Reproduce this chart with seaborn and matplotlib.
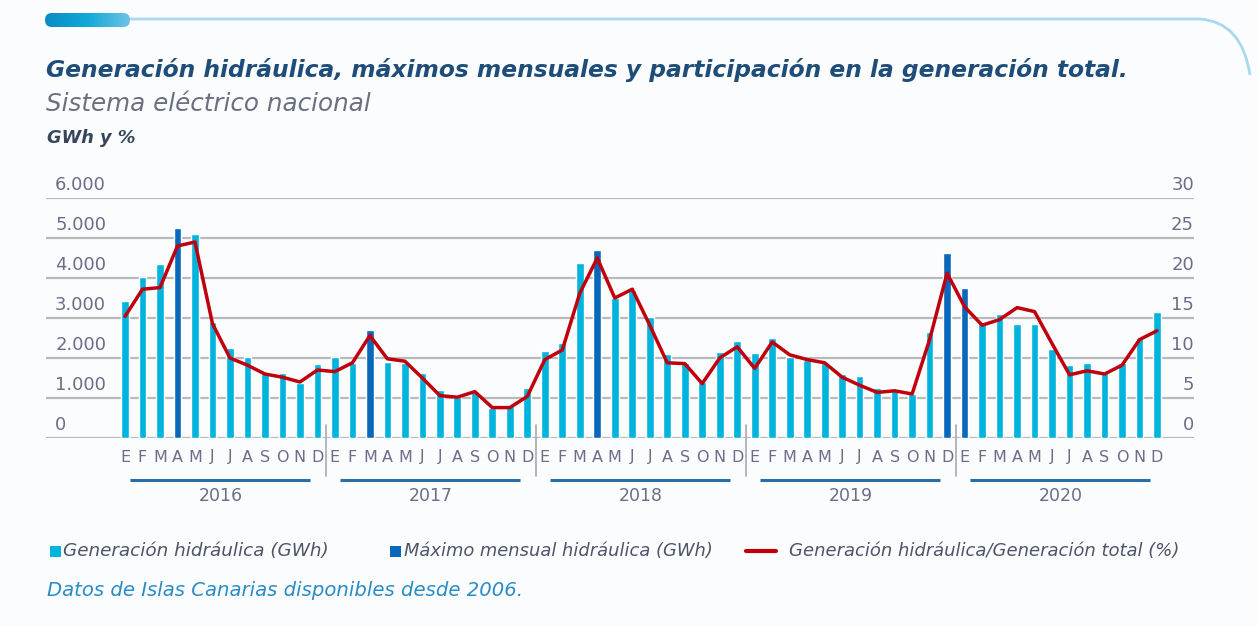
import numpy as np
import pandas as pd
import matplotlib
matplotlib.use("Agg")
import matplotlib.pyplot as plt
import matplotlib.transforms as mtransforms
from matplotlib.patches import Rectangle, FancyBboxPatch, PathPatch
from matplotlib.path import Path
from matplotlib.lines import Line2D
import seaborn as sns

# ---------------- data ----------------
years = ["2016", "2017", "2018", "2019", "2020"]
months = ["E", "F", "M", "A", "M", "J", "J", "A", "S", "O", "N", "D"]

gwh_2016 = [3420, 4030, 4340, 5260, 5100, 2900, 2240, 2030, 1620, 1620, 1370, 1850]
gwh_2017 = [2030, 1880, 2700, 1910, 1880, 1620, 1200, 1030, 1160, 740, 790, 1240]
gwh_2018 = [2170, 2370, 4380, 4700, 3490, 3700, 3030, 2090, 1880, 1410, 2160, 2430]
gwh_2019 = [2120, 2490, 2030, 1950, 1880, 1600, 1550, 1240, 1225, 1100, 2640, 4620]
gwh_2020 = [3740, 2910, 3100, 2850, 2850, 2220, 1820, 1880, 1660, 1870, 2490, 3160]

pct_2016 = [15.2, 18.6, 18.8, 24.0, 24.5, 14.3, 10.0, 9.1, 8.0, 7.6, 7.0, 8.5]
pct_2017 = [8.3, 9.4, 12.8, 9.9, 9.6, 7.5, 5.3, 5.1, 5.8, 3.8, 3.8, 5.2]
pct_2018 = [9.8, 11.0, 18.1, 22.5, 17.5, 18.6, 14.1, 9.4, 9.3, 6.8, 10.0, 11.4]
pct_2019 = [8.7, 12.0, 10.4, 9.8, 9.4, 7.6, 6.6, 5.7, 5.9, 5.5, 12.3, 20.6]
pct_2020 = [16.4, 14.1, 14.8, 16.3, 15.8, 11.8, 7.9, 8.4, 8.0, 9.1, 12.3, 13.4]

left_ticks = [0, 1000, 2000, 3000, 4000, 5000, 6000]
left_labels = ["0", "1.000", "2.000", "3.000", "4.000", "5.000", "6.000"]
right_ticks = [0, 5, 10, 15, 20, 25, 30]
right_labels = ["0", "5", "10", "15", "20", "25", "30"]

legend_labels = ["Generación hidráulica (GWh)", "Máximo mensual hidráulica (GWh)",
                 "Generación hidráulica/Generación total (%)"]

# ---------------- frame ----------------
gwh_all = [gwh_2016, gwh_2017, gwh_2018, gwh_2019, gwh_2020]
pct_all = [pct_2016, pct_2017, pct_2018, pct_2019, pct_2020]
rows = []
for yi, (yr, g, p) in enumerate(zip(years, gwh_all, pct_all)):
    imax = int(np.argmax(g))
    for mi in range(12):
        rows.append(dict(idx=yi * 12 + mi, year=yr, month=months[mi], gwh=g[mi], pct=p[mi],
                         tipo="max" if mi == imax else "normal"))
df = pd.DataFrame(rows)

# ---------------- style ----------------
sns.set_theme(style="white")
BG = "#fbfcfd"
C_LIGHT = "#00b4de"
C_DARK = "#0a68bb"
C_RED = "#c0000c"
C_GRID = "#b9b9bd"
C_TXT = "#6a6e86"
plt.rcParams["font.family"] = ["DejaVu Sans"]

W, H = 1258, 626
fig = plt.figure(figsize=(W / 100, H / 100), dpi=100, facecolor=BG)

def fx(px):
    return px / W

def fy(py):
    return 1 - py / H

ax_l, ax_r, ax_t, ax_b = 46, 1194, 198, 438
ax = fig.add_axes([fx(ax_l), fy(ax_b), fx(ax_r - ax_l), fy(ax_t) - fy(ax_b)])
ax.set_facecolor("none")

sns.barplot(data=df, x="idx", y="gwh", hue="tipo", palette={"normal": C_LIGHT, "max": C_DARK},
            dodge=False, native_scale=True, width=0.44, saturation=1, legend=False, ax=ax, zorder=3)

x0 = 125
step = (1157 - 125) / 59
ax.set_xlim((ax_l - x0) / step, (ax_r - x0) / step)
ax.set_ylim(0, 6000)
ax.set_axisbelow(True)
for v in left_ticks:
    ax.axhline(v, color=C_GRID, lw=1.6, zorder=0)
for s in ax.spines.values():
    s.set_visible(False)
ax.set_xticks([])
ax.set_yticks([])
ax.set_xlabel("")
ax.set_ylabel("")

ax2 = ax.twinx()
sns.lineplot(data=df, x="idx", y="pct", color=C_RED, lw=2.5, ax=ax2, zorder=5)
ax2.set_ylim(0, 30)
ax2.set_xlim(ax.get_xlim())
for s in ax2.spines.values():
    s.set_visible(False)
ax2.set_yticks([])
ax2.set_xlabel("")
ax2.set_ylabel("")

# tick labels above gridlines
tr_l = mtransforms.offset_copy(ax.get_yaxis_transform(), fig=fig, x=0, y=4, units="dots")
for v, lab in zip(left_ticks, left_labels):
    ax.text(0.008, v, lab, transform=tr_l, ha="left", va="bottom", fontsize=13,
            color=C_TXT)
tr_r = mtransforms.offset_copy(ax2.get_yaxis_transform(), fig=fig, x=0, y=4, units="dots")
for v, lab in zip(right_ticks, right_labels):
    ax2.text(1.0, v, lab, transform=tr_r, ha="right", va="bottom", fontsize=13,
             color=C_TXT)

# month letters, separators, year underline & labels
def dy(py):
    return (ax_b - py) / (ax_b - ax_t) * 6000

for _, r in df.iterrows():
    ax.text(r["idx"], dy(457), r["month"], ha="center", va="center", fontsize=11.5,
            color=C_TXT, clip_on=False)
for yi, yr in enumerate(years):
    s = yi * 12
    if yi > 0:
        ax.plot([s - 0.5, s - 0.5], [dy(425), dy(476)], color="#a9aab0", lw=1.2,
                clip_on=False, zorder=1)
    ax.plot([s + 0.3, s + 10.6], [dy(480), dy(480)], color="#2a6ea6", lw=2.2,
            clip_on=False, solid_capstyle="butt")
    ax.text(s + 5.5, dy(496), yr, ha="center", va="center", fontsize=12.5, color=C_TXT,
            clip_on=False)

# ---------------- header ----------------
fig.text(fx(46), fy(70), "Generación hidráulica, máximos mensuales y participación en la generación total.",
         ha="left", va="center", fontsize=16.8, fontweight="bold", style="italic", color="#1f4d7a")
fig.text(fx(46), fy(104), "Sistema eléctrico nacional", ha="left", va="center",
         fontsize=17.7, style="italic", color="#6a7080")
fig.text(fx(47), fy(138), "GWh y %", ha="left", va="center", fontsize=12.8,
         fontweight="bold", style="italic", color="#38465c")

# top decoration: gradient pill + thin line curving down on the right
pill_ax = fig.add_axes([fx(45), fy(27), fx(85), fy(13) - fy(27)])
pill_ax.set_axis_off()
grad = np.linspace(0, 1, 256).reshape(1, -1)
cmap = matplotlib.colors.LinearSegmentedColormap.from_list("pill", ["#0a8cc2", "#12a8d8", "#6cc3e6"])
im = pill_ax.imshow(grad, aspect="auto", cmap=cmap, extent=(0, 1, 0, 1))
clip = FancyBboxPatch((0.0, 0.0), 1.0, 1.0, boxstyle="round,pad=0,rounding_size=0.08",
                      transform=pill_ax.transAxes, facecolor="none", edgecolor="none",
                      mutation_aspect=1 / 0.16)
pill_ax.add_patch(clip)
im.set_clip_path(clip)
pill_ax.set_xlim(0, 1)
pill_ax.set_ylim(0, 1)

verts = [(fx(130), fy(19)), (fx(1200), fy(19)), (fx(1242), fy(22)), (fx(1250), fy(75))]
codes = [Path.MOVETO, Path.LINETO, Path.CURVE3, Path.CURVE3]
fig.patches.append(PathPatch(Path(verts, codes), transform=fig.transFigure, facecolor="none",
                             edgecolor="#a9d9ee", lw=2))

# ---------------- legend ----------------
LEG = "#4d5568"
fig.patches.append(Rectangle((fx(50), fy(557)), fx(11), fy(546) - fy(557), transform=fig.transFigure,
                             facecolor=C_LIGHT, edgecolor="none"))
fig.text(fx(63), fy(551), legend_labels[0], ha="left", va="center", fontsize=13.2,
         style="italic", color=LEG)
fig.patches.append(Rectangle((fx(390), fy(557)), fx(11), fy(546) - fy(557), transform=fig.transFigure,
                             facecolor=C_DARK, edgecolor="none"))
fig.text(fx(404), fy(551), legend_labels[1], ha="left", va="center", fontsize=12.9,
         style="italic", color=LEG)
fig.lines.append(Line2D([fx(746), fx(776)], [fy(551), fy(551)], transform=fig.transFigure,
                        color=C_RED, lw=3))
fig.text(fx(789), fy(551), legend_labels[2], ha="left", va="center", fontsize=13.0,
         style="italic", color=LEG)

fig.text(fx(47), fy(591), "Datos de Islas Canarias disponibles desde 2006.", ha="left", va="center",
         fontsize=14.1, style="italic", color="#2a8cc6")

fig.savefig("out.png", dpi=100, facecolor=BG)
